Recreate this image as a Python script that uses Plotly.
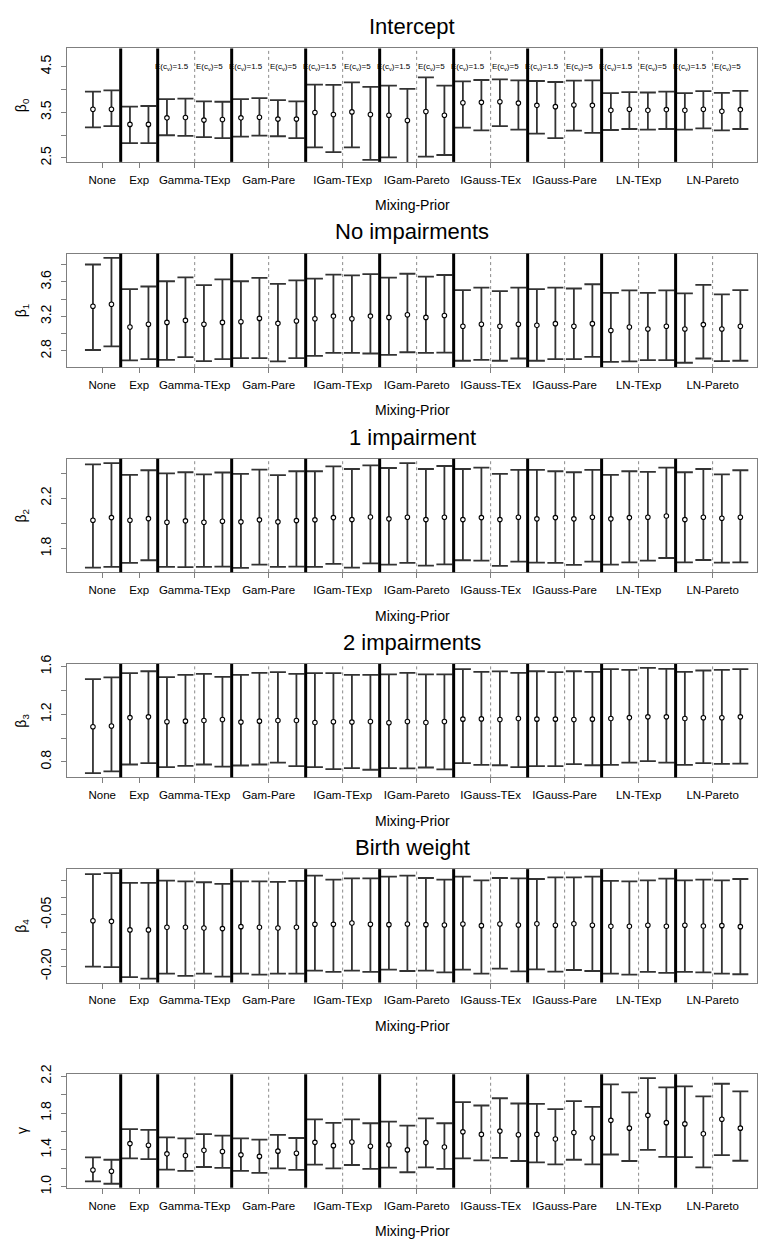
import plotly.graph_objects as go

# ---------------- data ----------------
groups = ["None", "Exp", "Gamma-TExp", "Gam-Pare", "IGam-TExp", "IGam-Pareto",
          "IGauss-TEx", "IGauss-Pare", "LN-TExp", "LN-Pareto"]
group_sizes = [2, 2, 4, 4, 4, 4, 4, 4, 4, 4]
sub_labels = ["E(c<sub>v</sub>)=1.5", "E(c<sub>v</sub>)=5"]
panel_titles = ["Intercept", "No impairments", "1 impairment", "2 impairments", "Birth weight", ""]
y_titles = ["β<sub>0</sub>", "β<sub>1</sub>", "β<sub>2</sub>", "β<sub>3</sub>", "β<sub>4</sub>", "γ"]
x_title = "Mixing-Prior"

# beta0 (Intercept)
b0_mid = [3.565, 3.565, 3.234, 3.234, 3.378, 3.385, 3.328, 3.342, 3.378, 3.390, 3.350, 3.350,
          3.493, 3.450, 3.508, 3.450, 3.436, 3.320, 3.515, 3.436, 3.709, 3.716, 3.730, 3.700,
          3.651, 3.623, 3.659, 3.651, 3.544, 3.565, 3.544, 3.558, 3.544, 3.565, 3.522, 3.558]
b0_lo = [3.170, 3.198, 2.824, 2.824, 2.997, 2.983, 2.954, 2.932, 2.968, 2.990, 2.975, 2.932,
         2.731, 2.630, 2.731, 2.458, 2.515, 2.380, 2.530, 2.565, 3.162, 3.105, 3.198, 3.120,
         3.033, 2.932, 3.098, 3.047, 3.112, 3.134, 3.120, 3.134, 3.120, 3.148, 3.105, 3.134]
b0_hi = [3.953, 3.980, 3.623, 3.637, 3.788, 3.800, 3.738, 3.730, 3.788, 3.810, 3.766, 3.738,
         4.104, 4.097, 4.155, 4.054, 4.083, 4.010, 4.263, 4.083, 4.176, 4.205, 4.220, 4.198,
         4.184, 4.162, 4.190, 4.198, 3.917, 3.940, 3.932, 3.953, 3.917, 3.960, 3.924, 3.967]

# beta1 (No impairments)
b1_mid = [3.318, 3.341, 3.078, 3.109, 3.131, 3.154, 3.109, 3.131, 3.139, 3.177, 3.120, 3.147,
          3.173, 3.204, 3.173, 3.204, 3.189, 3.219, 3.189, 3.211, 3.086, 3.109, 3.086, 3.109,
          3.097, 3.116, 3.086, 3.116, 3.036, 3.078, 3.055, 3.086, 3.055, 3.105, 3.055, 3.086]
b1_lo = [2.811, 2.853, 2.690, 2.705, 2.697, 2.728, 2.682, 2.705, 2.716, 2.716, 2.678, 2.716,
         2.743, 2.777, 2.777, 2.770, 2.754, 2.785, 2.777, 2.781, 2.686, 2.697, 2.686, 2.712,
         2.686, 2.705, 2.705, 2.731, 2.674, 2.678, 2.693, 2.693, 2.663, 2.712, 2.682, 2.686]
b1_hi = [3.802, 3.878, 3.516, 3.547, 3.608, 3.653, 3.562, 3.630, 3.608, 3.646, 3.577, 3.619,
         3.638, 3.684, 3.676, 3.691, 3.650, 3.695, 3.661, 3.680, 3.505, 3.535, 3.493, 3.535,
         3.516, 3.535, 3.524, 3.573, 3.474, 3.501, 3.474, 3.501, 3.467, 3.566, 3.455, 3.505]

# beta2 (1 impairment)
b2_mid = [2.025, 2.046, 2.025, 2.038, 2.009, 2.020, 2.009, 2.017, 2.012, 2.028, 2.012, 2.022,
          2.028, 2.046, 2.030, 2.051, 2.036, 2.049, 2.030, 2.049, 2.030, 2.046, 2.030, 2.049,
          2.036, 2.046, 2.036, 2.049, 2.036, 2.046, 2.049, 2.059, 2.030, 2.049, 2.041, 2.049]
b2_lo = [1.649, 1.654, 1.686, 1.707, 1.654, 1.652, 1.654, 1.657, 1.646, 1.673, 1.654, 1.657,
         1.654, 1.678, 1.649, 1.683, 1.673, 1.686, 1.665, 1.675, 1.707, 1.704, 1.662, 1.696,
         1.688, 1.686, 1.670, 1.696, 1.673, 1.691, 1.704, 1.725, 1.691, 1.709, 1.688, 1.691]
b2_hi = [2.469, 2.479, 2.385, 2.422, 2.398, 2.406, 2.390, 2.404, 2.393, 2.427, 2.383, 2.414,
         2.414, 2.453, 2.432, 2.461, 2.440, 2.479, 2.432, 2.456, 2.432, 2.443, 2.393, 2.425,
         2.425, 2.414, 2.406, 2.425, 2.385, 2.414, 2.409, 2.443, 2.406, 2.432, 2.390, 2.422]

# beta3 (2 impairments)
b3_mid = [1.095, 1.101, 1.172, 1.178, 1.137, 1.142, 1.148, 1.156, 1.134, 1.142, 1.148, 1.148,
          1.131, 1.137, 1.134, 1.139, 1.128, 1.139, 1.131, 1.139, 1.159, 1.161, 1.156, 1.164,
          1.159, 1.159, 1.156, 1.159, 1.164, 1.172, 1.178, 1.178, 1.164, 1.170, 1.170, 1.178]
b3_lo = [0.706, 0.720, 0.778, 0.789, 0.756, 0.767, 0.778, 0.761, 0.770, 0.778, 0.794, 0.764,
         0.756, 0.739, 0.748, 0.734, 0.748, 0.745, 0.753, 0.737, 0.789, 0.775, 0.772, 0.756,
         0.764, 0.764, 0.781, 0.772, 0.775, 0.794, 0.806, 0.794, 0.775, 0.789, 0.783, 0.786]
b3_hi = [1.495, 1.509, 1.545, 1.561, 1.512, 1.531, 1.539, 1.514, 1.531, 1.548, 1.553, 1.539,
         1.545, 1.545, 1.531, 1.531, 1.534, 1.548, 1.534, 1.534, 1.578, 1.556, 1.559, 1.548,
         1.561, 1.553, 1.561, 1.556, 1.578, 1.572, 1.589, 1.581, 1.556, 1.567, 1.572, 1.578]

# beta4 (Birth weight)
b4_mid = [-0.0672, -0.0690, -0.0939, -0.0939, -0.0863, -0.0863, -0.0882, -0.0901, -0.0844, -0.0863,
          -0.0882, -0.0863, -0.0777, -0.0777, -0.0739, -0.0777, -0.0786, -0.0767, -0.0786, -0.0796,
          -0.0767, -0.0815, -0.0767, -0.0796, -0.0758, -0.0805, -0.0758, -0.0805, -0.0834, -0.0834,
          -0.0805, -0.0834, -0.0805, -0.0824, -0.0815, -0.0844]
b4_lo = [-0.2008, -0.2017, -0.2313, -0.2351, -0.2208, -0.2275, -0.2208, -0.2294, -0.2208, -0.2237,
         -0.2208, -0.2208, -0.2122, -0.2160, -0.2122, -0.2160, -0.2094, -0.2132, -0.2122, -0.2170,
         -0.2094, -0.2208, -0.2065, -0.2141, -0.2084, -0.2151, -0.2103, -0.2132, -0.2208, -0.2237,
         -0.2160, -0.2189, -0.2160, -0.2170, -0.2208, -0.2227]
b4_hi = [0.0683, 0.0712, 0.0426, 0.0426, 0.0492, 0.0473, 0.0445, 0.0397, 0.0473, 0.0473,
         0.0454, 0.0483, 0.0636, 0.0521, 0.0559, 0.0559, 0.0607, 0.0636, 0.0569, 0.0521,
         0.0607, 0.0502, 0.0569, 0.0559, 0.0540, 0.0588, 0.0588, 0.0607, 0.0483, 0.0473,
         0.0502, 0.0550, 0.0502, 0.0521, 0.0502, 0.0540]

# gamma
g_mid = [1.182, 1.168, 1.468, 1.450, 1.357, 1.339, 1.396, 1.382, 1.346, 1.329, 1.386, 1.364,
         1.482, 1.446, 1.486, 1.439, 1.454, 1.400, 1.479, 1.432, 1.596, 1.568, 1.604, 1.564,
         1.568, 1.518, 1.589, 1.529, 1.721, 1.636, 1.775, 1.696, 1.682, 1.575, 1.732, 1.636]
g_lo = [1.057, 1.032, 1.307, 1.300, 1.186, 1.171, 1.214, 1.204, 1.171, 1.150, 1.200, 1.182,
        1.239, 1.200, 1.236, 1.193, 1.207, 1.157, 1.211, 1.193, 1.307, 1.286, 1.314, 1.279,
        1.264, 1.243, 1.293, 1.243, 1.350, 1.279, 1.400, 1.325, 1.321, 1.211, 1.343, 1.282]
g_hi = [1.318, 1.293, 1.625, 1.618, 1.536, 1.525, 1.571, 1.554, 1.525, 1.511, 1.564, 1.529,
        1.732, 1.693, 1.732, 1.689, 1.707, 1.664, 1.743, 1.689, 1.918, 1.882, 1.961, 1.904,
        1.900, 1.843, 1.929, 1.868, 2.111, 2.025, 2.179, 2.079, 2.089, 1.982, 2.118, 2.036]

y_ranges = [[2.414, 4.895], [2.613, 3.928], [1.612, 2.513], [0.670, 1.622], [-0.2468, 0.0826], [0.989, 2.221]]
y_tickvals = [[2.5, 3.0, 3.5, 4.0, 4.5],
              [2.8, 3.0, 3.2, 3.4, 3.6, 3.8],
              [1.8, 2.0, 2.2, 2.4],
              [0.8, 1.0, 1.2, 1.4, 1.6],
              [-0.20, -0.15, -0.10, -0.05, 0.0, 0.05],
              [1.0, 1.2, 1.4, 1.6, 1.8, 2.0, 2.2]]
y_ticktext = [["2.5", "", "3.5", "", "4.5"],
              ["2.8", "", "3.2", "", "3.6", ""],
              ["1.8", "", "2.2", ""],
              ["0.8", "", "1.2", "", "1.6"],
              ["-0.20", "", "", "-0.05", "", ""],
              ["1.0", "", "1.4", "", "1.8", "", "2.2"]]
label_y_panel1 = 4.5

panels = [(b0_mid, b0_lo, b0_hi), (b1_mid, b1_lo, b1_hi), (b2_mid, b2_lo, b2_hi),
          (b3_mid, b3_lo, b3_hi), (b4_mid, b4_lo, b4_hi), (g_mid, g_lo, g_hi)]

# ---------------- layout helpers ----------------
W, H = 758, 1247
FONT = "Liberation Sans, Arial, Helvetica, sans-serif"
box_left, box_right = 67, 757
box_top0, box_h, period = 39, 115, 208

def px_y(p):
    return 1 - p / H

n_pts = sum(group_sizes)
xs = list(range(1, n_pts + 1))
starts = []
s = 0.5
for g in group_sizes:
    starts.append(s)
    s += g
centers = [st + g / 2 for st, g in zip(starts, group_sizes)]
thick_x = starts[1:]
dotted_x = [st + 2 for st, g in zip(starts, group_sizes) if g == 4]

fig = go.Figure()
shapes = []
annotations = []
layout_axes = {}

for i, (mid, lo, hi) in enumerate(panels):
    k = "" if i == 0 else str(i + 1)
    top = box_top0 + period * i
    bot = top + box_h
    fig.add_trace(go.Scatter(
        x=xs, y=mid, mode="markers", xaxis="x" + k, yaxis="y" + k, showlegend=False,
        marker=dict(symbol="circle", size=4.5, color="white", line=dict(color="black", width=1.1)),
        error_y=dict(type="data", symmetric=False,
                     array=[h - m for h, m in zip(hi, mid)],
                     arrayminus=[m - l for m, l in zip(mid, lo)],
                     color="#333333", thickness=1.8, width=8),
        cliponaxis=True, hoverinfo="skip",
    ))
    axline = dict(showline=True, mirror=True, linecolor="#7f7f7f", linewidth=1,
                  showgrid=False, zeroline=False, ticks="outside", ticklen=5,
                  tickcolor="#7f7f7f")
    layout_axes["xaxis" + k] = dict(
        domain=[box_left / W, box_right / W], anchor="y" + k,
        range=[-0.403, 36.9], tickmode="array", tickvals=centers, ticktext=groups,
        tickfont=dict(family=FONT, size=11.5, color="black"), ticklabelstandoff=2, **axline)
    layout_axes["yaxis" + k] = dict(
        domain=[px_y(bot), px_y(top)], anchor="x" + k,
        range=y_ranges[i], tickmode="array", tickvals=y_tickvals[i], ticktext=y_ticktext[i],
        tickangle=-90, tickfont=dict(family=FONT, size=14, color="black"),
        ticklabelstandoff=4, **axline)
    for xv in thick_x:
        shapes.append(dict(type="line", xref="x" + k, yref="y" + k + " domain", x0=xv, x1=xv,
                           y0=0, y1=1, line=dict(color="black", width=3)))
    for xv in dotted_x:
        shapes.append(dict(type="line", xref="x" + k, yref="y" + k + " domain", x0=xv, x1=xv,
                           y0=0, y1=1, line=dict(color="#8a8a8a", width=1, dash="dot")))
    if panel_titles[i]:
        annotations.append(dict(text=panel_titles[i], xref="paper", yref="paper",
                                x=(box_left + box_right) / 2 / W, y=px_y(top - 22),
                                showarrow=False, xanchor="center", yanchor="middle",
                                font=dict(family=FONT, size=22, color="black")))
    annotations.append(dict(text=x_title, xref="paper", yref="paper",
                            x=(box_left + box_right) / 2 / W, y=px_y(bot + 44),
                            showarrow=False, xanchor="center", yanchor="middle",
                            font=dict(family=FONT, size=14, color="black")))
    annotations.append(dict(text=y_titles[i], xref="paper", yref="paper",
                            x=22 / W, y=px_y((top + bot) / 2), textangle=-90,
                            showarrow=False, xanchor="center", yanchor="middle",
                            font=dict(family=FONT, size=14, color="black")))
    if i == 0:
        for st, g in zip(starts, group_sizes):
            if g == 4:
                for j, lab in enumerate(sub_labels):
                    annotations.append(dict(text=lab, xref="x", yref="y",
                                            x=st + 0.8 + 2 * j, y=label_y_panel1,
                                            showarrow=False, xanchor="center", yanchor="middle",
                                            font=dict(family=FONT, size=8, color="black")))

fig.update_layout(
    width=W, height=H, autosize=False,
    margin=dict(l=0, r=0, t=0, b=0),
    paper_bgcolor="white", plot_bgcolor="white",
    shapes=shapes, annotations=annotations, showlegend=False,
    **layout_axes,
)

fig.write_html(
    "out.html",
    config={"displayModeBar": False, "staticPlot": True},
    post_script=("document.documentElement.style.margin='0';"
                 "document.body.style.margin='0';document.body.style.padding='0';"
                 "document.body.style.overflow='hidden';"
                 "var gd=document.getElementById('{plot_id}');"
                 "gd.style.position='fixed';gd.style.left='0px';gd.style.top='0px';"),
)
